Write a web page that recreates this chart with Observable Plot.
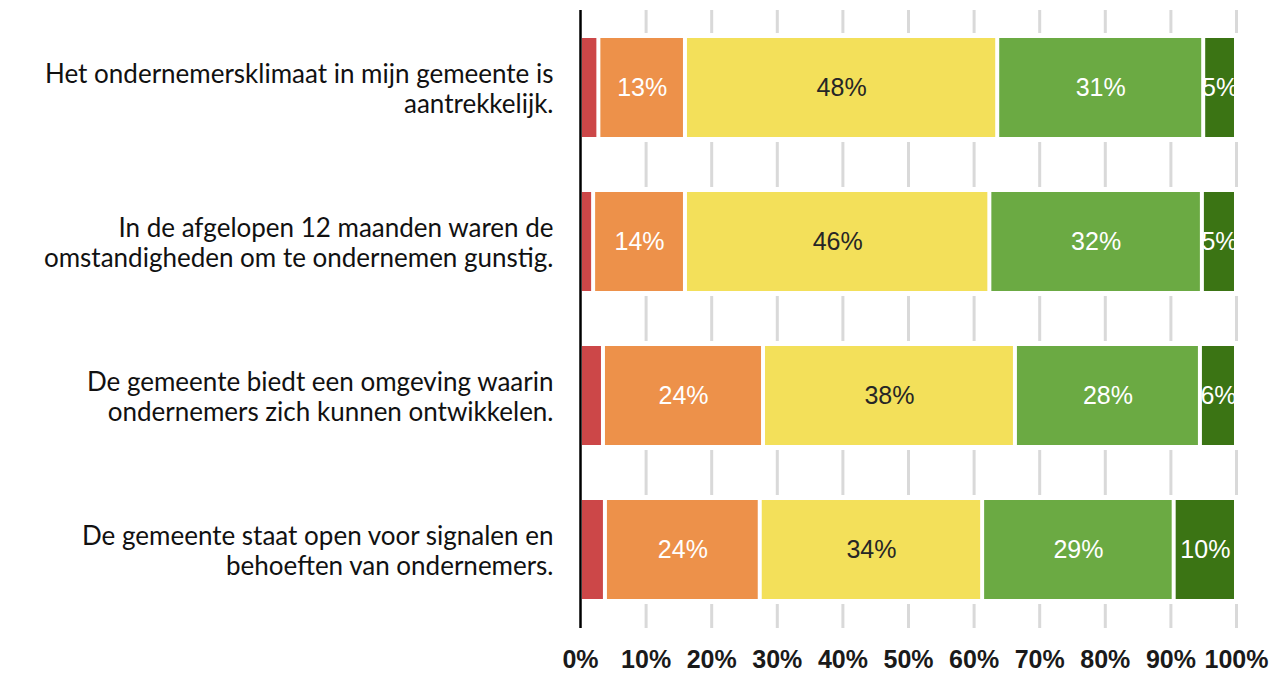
<!DOCTYPE html>
<html>
<head>
<meta charset="utf-8">
<script src="https://cdn.jsdelivr.net/npm/d3@7"></script>
<script src="https://cdn.jsdelivr.net/npm/@observablehq/plot@0.6"></script>
<style>
  html, body { margin: 0; padding: 0; background: #fff; }
</style>
</head>
<body>
<div id="chart"></div>
<script>
const categories = [
  "Het ondernemersklimaat in mijn gemeente is\naantrekkelijk.",
  "In de afgelopen 12 maanden waren de\nomstandigheden om te ondernemen gunstig.",
  "De gemeente biedt een omgeving waarin\nondernemers zich kunnen ontwikkelen.",
  "De gemeente staat open voor signalen en\nbehoeften van ondernemers."
];
const seriesNames = ["Zeer oneens", "Oneens", "Neutraal", "Eens", "Zeer eens"];
const seriesColors = ["#cc4748", "#ed914a", "#f3e05a", "#6baa43", "#3b7414"];
const labelColors = ["white", "white", "#262626", "white", "white"];
const zeerOneens = [2.8, 2.0, 3.5, 3.8];
const oneens     = [13.2, 14.0, 24.4, 23.6];
const neutraal   = [47.6, 46.4, 38.4, 33.9];
const eens       = [31.4, 32.4, 28.2, 29.2];
const zeerEens   = [5.0, 5.2, 5.5, 9.5];
const xTicks = [0, 10, 20, 30, 40, 50, 60, 70, 80, 90, 100];

const seriesValues = [zeerOneens, oneens, neutraal, eens, zeerEens];
const data = [];
categories.forEach((c, i) => {
  seriesNames.forEach((s, j) => {
    data.push({cat: c, series: s, value: seriesValues[j][i], si: j});
  });
});

const chart = Plot.plot({
  width: 1273,
  height: 675,
  marginLeft: 580,
  marginRight: 37,
  marginTop: 10,
  marginBottom: 47,
  style: {fontFamily: "Liberation Sans, Arial, sans-serif", background: "white"},
  x: {domain: [0, 100], ticks: xTicks, label: null},
  y: {domain: categories, paddingInner: 0.354, paddingOuter: 0.1745, label: null},
  color: {domain: seriesNames, range: seriesColors},
  marks: [
    Plot.ruleX(xTicks.filter(d => d > 0), {stroke: "#d9d9d9", strokeWidth: 3}),
    Plot.barX(categories, {x1: 0, x2: 100, y: d => d, fill: "white", stroke: "white", strokeWidth: 10}),
    Plot.barX(data, Plot.stackX({x: "value", y: "cat", fill: "series", insetLeft: 2, insetRight: 2})),
    Plot.textX(data, Plot.stackX({
      x: "value", y: "cat",
      text: d => d.si === 0 ? null : Math.round(d.value) + "%",
      fill: d => labelColors[d.si],
      fontSize: 25,
      fontFamily: "Liberation Sans, Arial, sans-serif"
    })),
    Plot.ruleX([0], {stroke: "black", strokeWidth: 2.5}),
    Plot.axisX({
      ticks: xTicks, tickSize: 0, tickPadding: 22,
      tickFormat: d => d + "%",
      fontSize: 25, fontWeight: "bold", fill: "#1a1a1a",
      fontFamily: "Liberation Sans Narrow, Liberation Sans, Arial, sans-serif"
    }),
    Plot.axisY({
      tickSize: 0, tickPadding: 27,
      fontSize: 26, lineHeight: 1.15, fill: "#111",
      fontFamily: "Lato, sans-serif",
      textOverflow: null, lineWidth: Infinity
    })
  ]
});
document.getElementById("chart").appendChild(chart);
</script>
</body>
</html>
